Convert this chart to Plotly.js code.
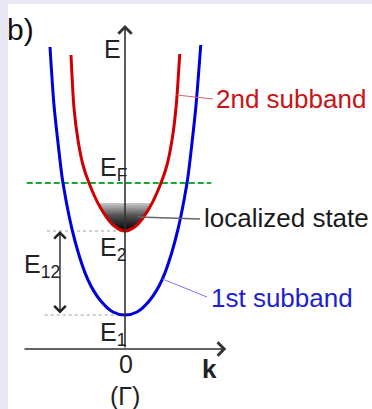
<!DOCTYPE html>
<html><head><meta charset="utf-8">
<script src="https://cdn.plot.ly/plotly-3.0.1.min.js"></script>
<style>html,body{margin:0;padding:0;background:#e8e8f5;overflow:hidden;} #chart{width:372px;height:409px;}</style>
</head><body><div id="chart"></div><script>
// 1st subband (blue): wavevector k and energy E (arbitrary units)
const band1K = [-1.00, -0.947, -0.893, -0.827, -0.667, -0.493, -0.333, -0.16, 0.00, 0.16, 0.333, 0.493, 0.667, 0.827, 0.893, 0.947, 1.01];
const band1E = [3.02, 2.44, 2.06, 1.66, 1.08, 0.69, 0.49, 0.37, 0.34, 0.37, 0.49, 0.69, 1.08, 1.66, 2.06, 2.44, 3.04];
// 2nd subband (red)
const band2K = [-0.72, -0.68, -0.627, -0.56, -0.48, -0.333, -0.16, 0.00, 0.16, 0.333, 0.48, 0.56, 0.627, 0.68, 0.73];
const band2E = [2.94, 2.41, 2.09, 1.84, 1.66, 1.42, 1.24, 1.18, 1.24, 1.42, 1.66, 1.84, 2.09, 2.41, 2.95];
// localized state (shaded bottom of the 2nd subband)
const locK = [-0.355, -0.333, -0.16, 0.00, 0.16, 0.333, 0.355];
const locE = [1.46, 1.42, 1.24, 1.18, 1.24, 1.42, 1.46];
// energy levels
const levelNames = ['E1', 'E2', 'EF'];
const levelValues = [0.34, 1.18, 1.66];
// Fermi level extent in k
const fermiK = [-1.31, 1.15];
// dotted level guides start at these k
const guideStartK = [-1.07, -1.04];
// E12 double arrow position
const e12K = -0.867;
// axes extents
const kAxis = [-1.36, 1.35];
const eAxisTop = 3.24;
// leader lines [k0,E0,k1,E1]
const leader2nd = [0.69, 2.54, 1.173, 2.50];
const leader1st = [0.50, 0.70, 1.093, 0.52];
const leaderLoc = [0.173, 1.32, 1.00, 1.30];

const E1 = levelValues[0], E2 = levelValues[1], EF = levelValues[2];
const FONT = 'Liberation Sans, Arial, sans-serif';
const blue = '#0000dc', red = '#d00000', green = '#1aa83a';

const traces = [
  {x: locK, y: locE, mode: 'lines', fill: 'toself', line: {width: 0, shape: 'spline', smoothing: 1},
   fillgradient: {type: 'vertical', colorscale: [[0, '#000000'], [0.55, '#505050'], [1, '#cacaca']]},
   hoverinfo: 'skip'},
  {x: fermiK, y: [EF, EF], mode: 'lines', line: {color: green, width: 2, dash: '6px,3px'}, hoverinfo: 'skip'},
  {x: [guideStartK[1], 0], y: [E2, E2], mode: 'lines', line: {color: '#a0a0a0', width: 1, dash: 'dot'}, hoverinfo: 'skip'},
  {x: [guideStartK[0], 0], y: [E1, E1], mode: 'lines', line: {color: '#a0a0a0', width: 1, dash: 'dot'}, hoverinfo: 'skip'},
  {x: band2K, y: band2E, mode: 'lines', line: {color: red, width: 3, shape: 'spline', smoothing: 0.8}, hoverinfo: 'skip'},
  {x: band1K, y: band1E, mode: 'lines', line: {color: blue, width: 3, shape: 'spline', smoothing: 0.8}, hoverinfo: 'skip'}
];

function arrow(x, y, ax, ay, extra) {
  return Object.assign({x: x, y: y, ax: ax, ay: ay, xref: 'x', yref: 'y', axref: 'x', ayref: 'y',
    text: '', showarrow: true, arrowhead: 4, arrowsize: 1.6, arrowwidth: 1.6, arrowcolor: '#333', standoff: 0}, extra || {});
}
function label(text, x, y, size, color, xanchor, extra) {
  return Object.assign({x: x, y: y, xref: 'x', yref: 'y', text: text, showarrow: false,
    xanchor: xanchor || 'center', yanchor: 'middle', font: {family: FONT, size: size, color: color}}, extra || {});
}

const annotations = [
  arrow(0, eAxisTop, 0, 0),
  arrow(kAxis[1], 0, kAxis[0], 0),
  arrow(e12K, E2, e12K, E1, {arrowside: 'end+start', arrowwidth: 1.4, arrowcolor: '#222'}),
  label('b)', -1.387, 3.20, 30, '#111'),
  label('E', -0.173, 3.005, 25, '#222'),
  label('2nd subband', 1.187, 2.50, 26, '#c81414', 'left'),
  label('localized state', 1.027, 1.31, 26, '#1a1a1a', 'left'),
  label('1st subband', 1.12, 0.51, 26, '#1e1ed2', 'left'),
  label('E<sub>F</sub>', -0.36, 1.80, 25, '#222', 'left'),
  label('E<sub>2</sub>', -0.36, 1.00, 25, '#222', 'left'),
  label('E<sub>12</sub>', -1.373, 0.835, 25, '#222', 'left'),
  label('E<sub>1</sub>', -0.36, 0.15, 25, '#222', 'left'),
  label('0', 0.007, -0.15, 25, '#222'),
  label('(Γ)', 0.0, -0.47, 25, '#222'),
  label('<b>k</b>', 1.127, -0.195, 26, '#222')
];

function seg(a, color, width) {
  return {type: 'line', xref: 'x', yref: 'y', x0: a[0], y0: a[1], x1: a[2], y1: a[3], line: {color: color, width: width}, layer: 'above'};
}

const shapes = [
  {type: 'rect', xref: 'paper', yref: 'paper', x0: 8 / 372, x1: 1, y0: 0, y1: 405 / 409, fillcolor: '#ffffff', line: {width: 0}, layer: 'below'},
  seg(leader2nd, '#d86060', 1),
  seg(leader1st, '#7878e6', 1),
  seg(leaderLoc, '#666666', 1.5)
];

const layout = {
  width: 372, height: 409,
  margin: {l: 0, r: 0, t: 0, b: 0, pad: 0},
  paper_bgcolor: '#e8e8f5', plot_bgcolor: 'rgba(0,0,0,0)',
  showlegend: false,
  xaxis: {range: [-125 / 75, 247 / 75], visible: false, fixedrange: true},
  yaxis: {range: [-0.60, 3.49], visible: false, fixedrange: true},
  annotations: annotations,
  shapes: shapes
};

Plotly.newPlot('chart', traces, layout, {displayModeBar: false, staticPlot: true});
</script></body></html>
